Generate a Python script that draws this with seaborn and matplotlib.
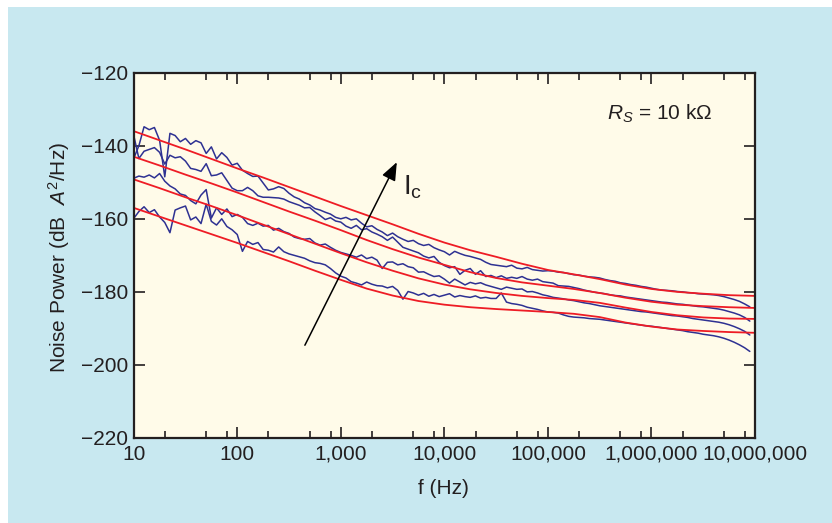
import numpy as np
import matplotlib
matplotlib.use("Agg")
import matplotlib.pyplot as plt
import seaborn as sns
from matplotlib.patches import Rectangle
from matplotlib.ticker import FixedLocator, FixedFormatter, NullFormatter

# ---------------- data ----------------
# measured noise spectra, sampled every 0.05 decade from 10 Hz
blue_log_freq = np.round(np.arange(1.0, 6.951, 0.05), 2)

meas_1 = [
    -143.5, -140.0, -134.8, -135.6, -135.0, -138.5, -148.5, -136.6, -137.2, -138.9,
    -138.0, -139.6, -138.6, -139.2, -142.1, -140.3, -143.6, -141.9, -143.2, -145.3,
    -144.8, -146.7, -147.6, -148.4, -148.3, -150.2, -152.1, -151.8, -151.2, -151.7,
    -153.0, -154.0, -154.6, -155.6, -156.2, -157.2, -157.6, -158.2, -158.7, -159.6,
    -160.0, -159.6, -160.3, -160.0, -161.2, -162.2, -161.9, -162.9, -163.6, -164.6,
    -163.9, -164.9, -165.6, -166.2, -165.9, -166.8, -167.3, -167.0, -167.9, -168.5,
    -169.0, -169.9, -168.9, -169.5, -170.0, -170.3, -170.7, -171.1, -171.9, -172.5,
    -172.7, -172.9, -173.1, -172.7, -173.5, -173.7, -173.3, -173.9, -174.1, -174.3,
    -174.2, -174.3, -174.6, -174.7, -175.0, -175.3, -175.4, -175.7, -175.9, -176.0,
    -176.2, -176.6, -176.9, -177.1, -177.5, -177.7, -178.0, -178.2, -178.5, -178.7,
    -179.0, -179.3, -179.5, -179.6, -179.7, -179.9, -180.0, -180.2, -180.3, -180.5,
    -180.6, -180.7, -180.8, -181.0, -181.3, -181.7, -182.1, -182.6, -183.3, -184.1,
]
meas_2 = [
    -137.1, -143.5, -141.5, -141.0, -140.5, -141.8, -145.0, -142.6, -143.3, -143.0,
    -144.2, -146.2, -146.5, -147.0, -144.9, -148.2, -148.0, -147.4, -149.5, -151.6,
    -152.3, -152.3, -151.4, -152.3, -153.7, -154.1, -154.1, -154.2, -154.3, -154.6,
    -155.3, -155.8, -156.3, -157.0, -156.9, -158.1, -159.1, -160.2, -159.7, -160.6,
    -160.9, -162.0, -162.6, -161.8, -163.0, -162.7, -163.6, -164.2, -164.9, -165.9,
    -165.0, -166.4, -167.8, -168.3, -168.8, -169.3, -170.2, -170.7, -170.3, -171.9,
    -172.8, -173.4, -173.1, -175.2, -174.1, -173.6, -175.2, -174.2, -175.8, -175.5,
    -176.1, -175.6, -176.3, -176.0, -176.3, -175.8, -176.5, -176.8, -176.5, -177.2,
    -177.4, -177.6, -178.3, -178.4, -178.5, -178.8, -179.1, -179.5, -179.8, -180.1,
    -180.3, -180.5, -180.8, -181.0, -181.1, -181.4, -181.6, -181.8, -182.0, -182.2,
    -182.4, -182.6, -182.8, -182.9, -183.1, -183.3, -183.4, -183.6, -183.8, -184.0,
    -184.1, -184.3, -184.5, -184.7, -185.0, -185.4, -185.8, -186.3, -187.0, -188.0,
]
meas_3 = [
    -148.9, -148.3, -148.6, -148.0, -148.8, -147.6, -149.7, -151.0, -151.8, -153.2,
    -153.6, -155.0, -155.9, -153.5, -152.0, -159.8, -157.0, -158.8, -157.3, -159.4,
    -158.8, -159.6, -161.3, -161.8, -161.2, -162.0, -161.8, -163.1, -162.6, -163.5,
    -164.0, -165.0, -165.4, -165.6, -165.4, -166.6, -167.2, -166.9, -167.8, -168.6,
    -169.2, -169.6, -170.0, -170.5, -169.9, -170.9, -170.5, -171.3, -173.6, -171.9,
    -171.8, -172.6, -172.3, -173.1, -173.4, -174.6, -174.5, -175.2, -175.8, -175.6,
    -176.5, -177.6, -176.5, -177.3, -178.1, -177.4, -177.8, -177.5, -178.1, -178.5,
    -178.9, -179.3, -178.7, -179.0, -179.3, -179.2, -180.0, -179.9, -180.3, -180.8,
    -181.1, -181.5, -181.7, -181.9, -182.2, -182.4, -182.7, -183.0, -183.2, -183.5,
    -183.8, -184.0, -184.2, -184.4, -184.6, -184.8, -185.0, -185.2, -185.4, -185.5,
    -185.7, -185.9, -186.1, -186.3, -186.5, -186.6, -186.8, -187.0, -187.3, -187.5,
    -187.7, -187.9, -188.1, -188.3, -188.6, -189.0, -189.5, -190.1, -190.8, -191.8,
]
meas_4 = [
    -159.9, -158.0, -156.7, -158.3, -157.5, -159.5, -161.0, -163.8, -157.6, -157.0,
    -156.5, -160.3, -159.5, -161.3, -156.0, -160.7, -161.7, -160.0, -162.1, -163.0,
    -164.3, -168.9, -166.2, -167.0, -166.5, -168.4, -168.6, -169.1, -167.7, -169.0,
    -169.6, -170.0, -170.4, -170.8, -171.5, -172.0, -172.2, -172.6, -173.6, -174.8,
    -175.7, -176.2, -177.2, -177.6, -178.1, -177.3, -177.9, -178.3, -178.4, -178.9,
    -178.5, -179.6, -182.0, -179.9, -180.3, -180.9, -180.4, -181.2, -180.7, -181.3,
    -180.9, -180.5, -181.4, -181.0, -181.3, -181.5, -181.1, -181.7, -181.5, -181.8,
    -181.8, -180.3, -182.8, -183.2, -183.4, -183.7, -184.2, -184.5, -184.8, -185.2,
    -185.5, -185.6, -185.8, -186.3, -186.7, -186.9, -187.0, -187.1, -187.3, -187.4,
    -187.5, -187.7, -187.9, -188.1, -188.3, -188.5, -188.7, -188.9, -189.1, -189.3,
    -189.4, -189.6, -189.8, -190.0, -190.2, -190.4, -190.6, -190.9, -191.1, -191.3,
    -191.6, -191.8, -192.0, -192.3, -192.7, -193.2, -193.8, -194.5, -195.3, -196.3,
]

# model curves, sampled every quarter decade
red_log_freq = np.arange(1.0, 7.001, 0.25)
model_1 = [-136.0, -138.5, -141.0, -143.6, -146.2, -148.7, -151.3, -153.9, -156.5,
           -159.0, -161.5, -164.1, -166.5, -168.6, -170.4, -172.3, -174.0, -175.2,
           -176.5, -178.0, -179.2, -180.0, -180.5, -180.9, -181.1]
model_2 = [-143.0, -145.4, -147.9, -150.3, -152.8, -155.4, -158.0, -160.5, -163.1,
           -165.8, -168.3, -170.6, -172.6, -174.6, -176.2, -177.4, -178.3, -179.2,
           -180.3, -181.6, -182.7, -183.5, -183.9, -184.2, -184.4]
model_3 = [-149.2, -151.6, -154.1, -156.5, -159.0, -161.6, -164.2, -166.8, -169.4,
           -171.9, -174.2, -176.3, -178.0, -179.3, -180.3, -181.1, -181.7, -182.2,
           -183.0, -184.3, -185.5, -186.4, -187.0, -187.3, -187.4]
model_4 = [-157.0, -159.4, -161.8, -164.2, -166.6, -169.1, -171.6, -174.2, -176.7,
           -179.1, -181.0, -182.5, -183.5, -184.2, -184.7, -185.1, -185.5, -186.0,
           -186.9, -188.4, -189.5, -190.3, -190.7, -191.0, -191.2]

x_tick_values = [10, 100, 1e3, 1e4, 1e5, 1e6, 1e7]
x_tick_labels = ["10", "100", "1,000", "10,000", "100,000", "1,000,000", "10,000,000"]
y_tick_values = [-220, -200, -180, -160, -140, -120]

arrow_tail = (450, -194.6)
arrow_head = (3475, -144.5)
ic_label_pos = (4000, -153.3)
rs_label_pos = (3.7e5, -133.0)

# ---------------- style ----------------
BLUE = "#2e3192"
RED = "#ee1c25"
FIG_BG = "#c8e8f0"
AX_BG = "#fffbe9"
INK = "#231f20"

sns.set_style("ticks")
plt.rcParams["font.family"] = ["Liberation Sans", "DejaVu Sans"]
plt.rcParams["mathtext.fontset"] = "custom"
plt.rcParams["mathtext.rm"] = "Liberation Sans"
plt.rcParams["mathtext.it"] = "Liberation Sans:italic"
plt.rcParams["axes.unicode_minus"] = True

W, H = 832, 523
fig = plt.figure(figsize=(W / 100, H / 100), dpi=100, facecolor="white")
fig.add_artist(Rectangle((8 / W, 0), 1, 1 - 7 / H, transform=fig.transFigure,
                         facecolor=FIG_BG, edgecolor="none", zorder=-10))
ax = fig.add_axes([133.7 / W, 1 - 438 / H, (755 - 133.7) / W, (438 - 72.7) / H])
ax.set_facecolor(AX_BG)

blue_freq = 10 ** blue_log_freq
red_freq = 10 ** red_log_freq
for vals in (meas_1, meas_2, meas_3, meas_4):
    sns.lineplot(x=blue_freq, y=vals, ax=ax, color=BLUE, linewidth=1.1,
                 estimator=None, sort=False, legend=False)
for vals in (model_1, model_2, model_3, model_4):
    sns.lineplot(x=red_freq, y=vals, ax=ax, color=RED, linewidth=1.3,
                 estimator=None, sort=False, legend=False)

ax.set_xscale("log")
ax.set_xlim(10, 1e7)
ax.set_ylim(-220, -120)
ax.xaxis.set_major_locator(FixedLocator(x_tick_values))
ax.xaxis.set_major_formatter(FixedFormatter(x_tick_labels))
ax.xaxis.set_minor_locator(FixedLocator([m * 10 ** k for k in range(1, 7) for m in (2, 5, 8)]))
ax.xaxis.set_minor_formatter(NullFormatter())
ax.set_yticks(y_tick_values)

ax.tick_params(which="both", direction="in", top=True, right=True, colors=INK,
               labelcolor=INK, width=1.2)
ax.tick_params(which="major", length=8, labelsize=15)
ax.tick_params(which="minor", length=5)
ax.tick_params(axis="x", pad=5)
ax.tick_params(axis="y", pad=4)
for sp in ax.spines.values():
    sp.set_color(INK)
    sp.set_linewidth(1.6)

ax.set_xlabel("f (Hz)", fontsize=15, color=INK)
ax.xaxis.set_label_coords(0.498, -0.112)
ax.set_ylabel(r"Noise Power (dB  $A^{2}$/Hz)", fontsize=15, color=INK)
ax.yaxis.set_label_coords(-0.099, 0.494)

ax.annotate("", xy=arrow_head, xytext=arrow_tail,
            arrowprops=dict(arrowstyle="-|>,head_length=0.55,head_width=0.22",
                            mutation_scale=20, color="black", lw=1.1,
                            shrinkA=0, shrinkB=0))
ax.text(*ic_label_pos, r"I$_{\mathrm{c}}$", fontsize=20, color=INK,
        ha="left", va="baseline")
ax.text(*rs_label_pos, r"$R_S$ = 10 kΩ", fontsize=15, color=INK,
        ha="left", va="baseline")

fig.savefig("out.png", dpi=100, facecolor=fig.get_facecolor())
